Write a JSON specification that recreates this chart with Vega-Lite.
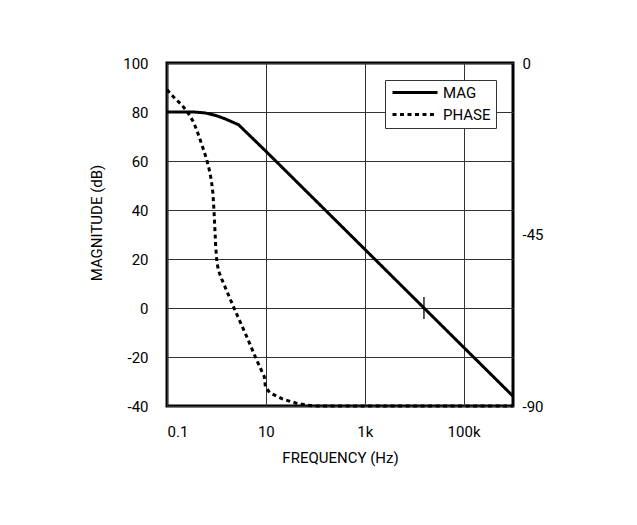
{
  "$schema": "https://vega.github.io/schema/vega-lite/v6.json",
  "width": 346,
  "height": 343,
  "autosize": {"type": "none"},
  "padding": {"left": 167, "top": 63, "right": 124, "bottom": 119},
  "background": "white",
  "config": {
    "font": "Roboto",
    "view": {"stroke": "black", "strokeWidth": 3},
    "axis": {
      "labelFont": "Roboto",
      "labelFontSize": 15,
      "labelColor": "black",
      "titleFont": "Roboto",
      "titleFontSize": 15,
      "titleFontWeight": "normal",
      "titleColor": "black",
      "domain": false,
      "ticks": false,
      "gridColor": "#333333",
      "gridWidth": 1,
      "gridOpacity": 1
    },
    "legend": {
      "orient": "top-right",
      "offset": 17,
      "fillColor": "white",
      "strokeColor": "#333333",
      "padding": 5,
      "symbolType": "M-1,0H8",
      "symbolSize": 100,
      "symbolStrokeWidth": 3,
      "symbolStrokeColor": "black",
      "labelFont": "Roboto",
      "labelFontSize": 15,
      "labelColor": "black",
      "labelOffset": 38,
      "rowPadding": 6
    }
  },
  "datasets": {
    "mag": [
      {"f": 0.1, "v": 80, "series": "MAG"},
      {"f": 0.35, "v": 80, "series": "MAG"},
      {"f": 0.6, "v": 79.6, "series": "MAG"},
      {"f": 1, "v": 78.5, "series": "MAG"},
      {"f": 1.5, "v": 77.2, "series": "MAG"},
      {"f": 2, "v": 76.1, "series": "MAG"},
      {"f": 2.8, "v": 74.8, "series": "MAG"},
      {"f": 10, "v": 64, "series": "MAG"},
      {"f": 1000000, "v": -36, "series": "MAG"}
    ],
    "marker": [
      {"f": 15800, "lo": -4.5, "hi": 4.5}
    ],
    "phase": [
      {"f": 0.1, "v": -7, "series": "PHASE"},
      {"f": 0.145, "v": -9.3, "series": "PHASE"},
      {"f": 0.2, "v": -11, "series": "PHASE"},
      {"f": 0.27, "v": -13.2, "series": "PHASE"},
      {"f": 0.34, "v": -15.4, "series": "PHASE"},
      {"f": 0.4, "v": -17.6, "series": "PHASE"},
      {"f": 0.47, "v": -20.2, "series": "PHASE"},
      {"f": 0.55, "v": -22.8, "series": "PHASE"},
      {"f": 0.63, "v": -25.2, "series": "PHASE"},
      {"f": 0.71, "v": -27.8, "series": "PHASE"},
      {"f": 0.79, "v": -30.8, "series": "PHASE"},
      {"f": 0.85, "v": -34.2, "series": "PHASE"},
      {"f": 0.89, "v": -38.5, "series": "PHASE"},
      {"f": 0.93, "v": -43.5, "series": "PHASE"},
      {"f": 0.97, "v": -48.5, "series": "PHASE"},
      {"f": 1.02, "v": -52, "series": "PHASE"},
      {"f": 1.1, "v": -54.5, "series": "PHASE"},
      {"f": 1.28, "v": -56.7, "series": "PHASE"},
      {"f": 1.5, "v": -58.8, "series": "PHASE"},
      {"f": 2.2, "v": -63.9, "series": "PHASE"},
      {"f": 4.1, "v": -71.8, "series": "PHASE"},
      {"f": 6.5, "v": -77.9, "series": "PHASE"},
      {"f": 9.3, "v": -82.3, "series": "PHASE"},
      {"f": 9.8, "v": -85, "series": "PHASE"},
      {"f": 12, "v": -86.5, "series": "PHASE"},
      {"f": 22, "v": -88.2, "series": "PHASE"},
      {"f": 40, "v": -89.2, "series": "PHASE"},
      {"f": 70, "v": -89.8, "series": "PHASE"},
      {"f": 100, "v": -90, "series": "PHASE"},
      {"f": 1000000, "v": -90, "series": "PHASE"}
    ]
  },
  "layer": [
    {
      "data": {"name": "mag"},
      "mark": {"type": "line", "strokeWidth": 3, "color": "black"},
      "encoding": {
        "x": {
          "field": "f",
          "type": "quantitative",
          "scale": {"type": "log", "domain": [0.1, 1000000], "nice": false},
          "axis": {
            "values": [0.1, 10, 1000, 100000],
            "labelExpr": "datum.value < 1 ? '0.1' : datum.value < 100 ? '10' : datum.value < 10000 ? '1k' : '100k'",
            "title": "FREQUENCY (Hz)",
            "labelPadding": 18,
            "titlePadding": 11,
            "grid": true
          }
        },
        "y": {
          "field": "v",
          "type": "quantitative",
          "scale": {"domain": [-40, 100], "nice": false},
          "axis": {
            "values": [-40, -20, 0, 20, 40, 60, 80, 100],
            "labelExpr": "'' + datum.value",
            "title": "MAGNITUDE (dB)",
            "labelPadding": 19,
            "titlePadding": 18,
            "titleY": 159.5,
            "grid": true
          }
        },
        "strokeDash": {
          "field": "series",
          "type": "nominal",
          "scale": {"domain": ["MAG", "PHASE"], "range": [[1, 0], [4, 3.5]]},
          "legend": {"title": null}
        }
      }
    },
    {
      "data": {"name": "marker"},
      "mark": {"type": "rule", "strokeWidth": 1.3, "color": "black"},
      "encoding": {
        "x": {"field": "f", "type": "quantitative"},
        "y": {"field": "lo", "type": "quantitative", "scale": {"domain": [-40, 100], "nice": false}, "axis": null},
        "y2": {"field": "hi"}
      }
    },
    {
      "data": {"name": "phase"},
      "mark": {"type": "line", "strokeWidth": 3, "color": "black"},
      "encoding": {
        "x": {"field": "f", "type": "quantitative"},
        "y": {
          "field": "v",
          "type": "quantitative",
          "scale": {"domain": [-90, 0], "nice": false},
          "axis": {"orient": "right", "values": [0, -45, -90], "labelExpr": "'' + datum.value", "title": null, "labelPadding": 9, "grid": false}
        },
        "strokeDash": {"field": "series", "type": "nominal"}
      }
    }
  ],
  "resolve": {"scale": {"y": "independent"}}
}
